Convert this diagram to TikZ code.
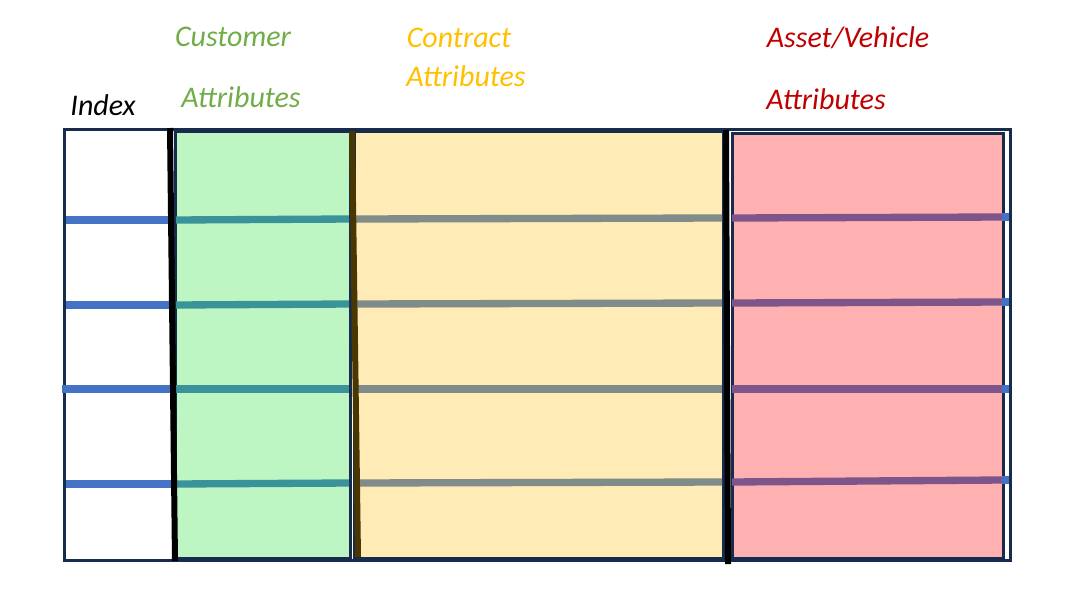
\documentclass[tikz,border=0pt]{standalone}
\usepackage{fontspec}
\setmainfont{Carlito}
\usetikzlibrary{positioning}
\definecolor{navy}{HTML}{172B4D}
\definecolor{custgreen}{HTML}{70AD47}
\definecolor{contyellow}{HTML}{FFC000}
\definecolor{assetred}{HTML}{C00000}
\definecolor{fillgreen}{HTML}{BDF6C2}
\definecolor{fillyellow}{HTML}{FFEBB5}
\definecolor{fillred}{HTML}{FFB1B1}
\definecolor{rowblue}{HTML}{4472C4}
\definecolor{rowteal}{HTML}{3A9399}
\definecolor{rowgrey}{HTML}{7F8C8A}
\definecolor{rowpurple}{HTML}{7E558B}
\definecolor{sepbrown}{HTML}{4A3600}
\tikzset{
  label/.style={font=\fontsize{22.5}{26}\selectfont\itshape, inner sep=0pt},
  block/.style={draw=navy, line width=2.5pt, inner sep=0pt, anchor=north west},
  row/.style={line width=5.5pt},
  sep/.style={line width=4.5pt}
}
\begin{document}
\begin{tikzpicture}[x=0.75pt, y=-0.75pt]
\useasboundingbox (0,0) rectangle (1078,604);

% outer frame and blocks
\node[block, minimum width=946*0.75pt, minimum height=431*0.75pt] at (63,128) (frame) {};
\node[block, fill=fillgreen, minimum width=175*0.75pt, minimum height=427*0.75pt] at (174,130) (cust) {};
\node[block, fill=fillyellow, minimum width=369*0.75pt, minimum height=427*0.75pt] at (353,130) (cont) {};
\node[block, fill=fillred, minimum width=271*0.75pt, minimum height=425*0.75pt] at (731,132) (asset) {};

% rows
\foreach \ya/\yb/\yc/\yd/\xs in {220/219/218/217/66, 305/304/303/302/66, 389/389/389/389/62, 484/483/482/480/66}{
  \draw[row, rowblue] (\xs,\ya) -- (172,\ya);
  \draw[row, rowteal] (176,\ya) -- (349,\yb);
  \draw[row, rowgrey] (356,\yb) -- (722,\yc);
  \draw[row, rowpurple] (732,\yc) -- (1002,\yd);
  \draw[row, rowblue] (1002,\yd) -- (1009,\yd);
}

% separators
\draw[sep, black] (170,128) -- (175,561);
\draw[sep, sepbrown] (352,131) -- (358,557);
\draw[sep, black] (726,130) -- (728,564);

% headings
\node[label] at (103,105) (idx) {Index};
\node[label, text=custgreen] at (233,37) (custa) {Customer};
\node[label, text=custgreen] at (241,97) (custb) {Attributes};
\node[label, text=contyellow] at (459,38) (conta) {Contract};
\node[label, text=contyellow] at (466,76) (contb) {Attributes};
\node[label, text=assetred] at (848,38) (asseta) {Asset/Vehicle};
\node[label, text=assetred] at (826,99) (assetb) {Attributes};

\end{tikzpicture}
\end{document}
